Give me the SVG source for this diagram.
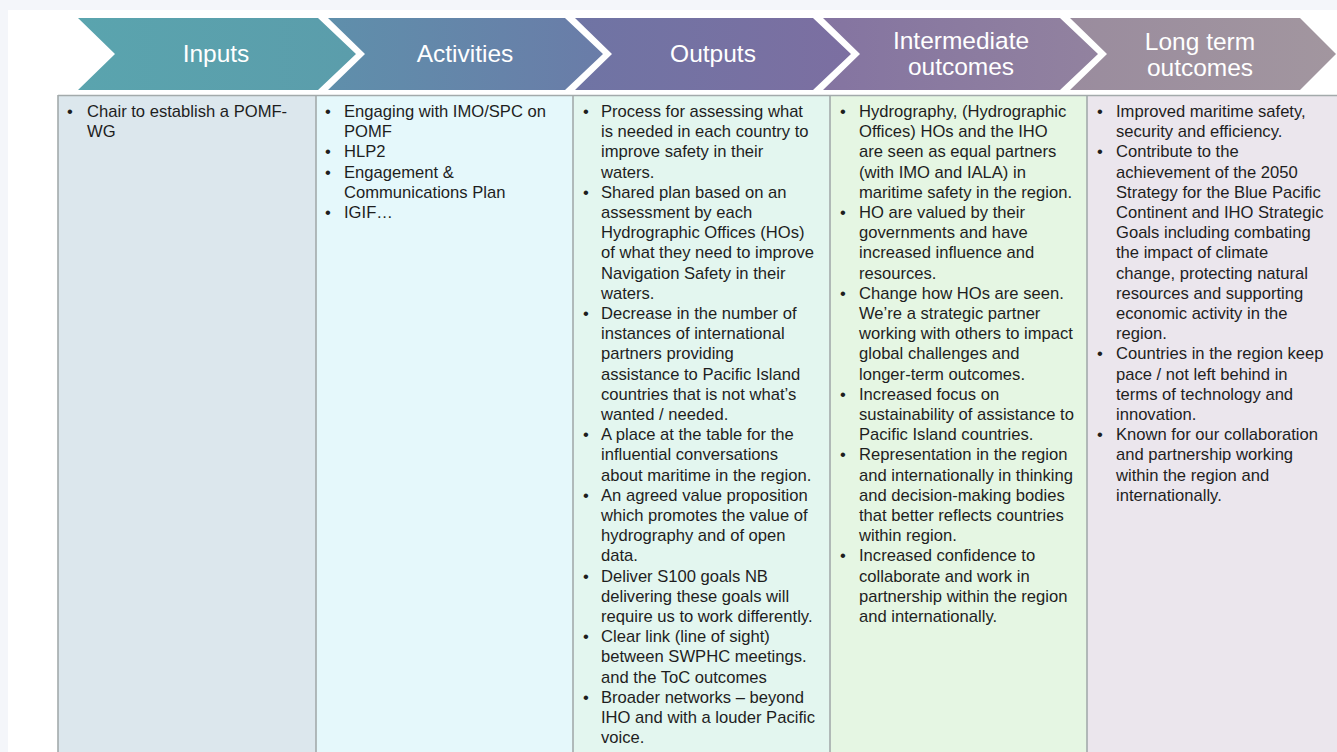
<svg xmlns="http://www.w3.org/2000/svg" width="1337" height="752" viewBox="0 0 1337 752">
<style>
.hd{font-family:"Liberation Sans",Arial,sans-serif;font-size:24.5px;fill:#ffffff;text-anchor:middle}
.bt{font-family:"Liberation Sans",Arial,sans-serif;font-size:16.6px;fill:#1e1e1e}
.col{stroke:#a3aaab;stroke-width:1.6}
</style>
<defs>
<linearGradient id="g1" x1="0" y1="0" x2="1" y2="0"><stop offset="0" stop-color="#5aa4ae"/><stop offset="1" stop-color="#5b9dab"/></linearGradient>
<linearGradient id="g2" x1="0" y1="0" x2="1" y2="0"><stop offset="0" stop-color="#5f8fab"/><stop offset="1" stop-color="#6a7ca8"/></linearGradient>
<linearGradient id="g3" x1="0" y1="0" x2="1" y2="0"><stop offset="0" stop-color="#6f74a4"/><stop offset="1" stop-color="#7c6fa1"/></linearGradient>
<linearGradient id="g4" x1="0" y1="0" x2="1" y2="0"><stop offset="0" stop-color="#8474a1"/><stop offset="1" stop-color="#92829f"/></linearGradient>
<linearGradient id="g5" x1="0" y1="0" x2="1" y2="0"><stop offset="0" stop-color="#9a8c9e"/><stop offset="1" stop-color="#a2969f"/></linearGradient>
</defs>
<rect x="0" y="0" width="1337" height="752" fill="#f4f6fa"/>
<rect x="8" y="10" width="1329" height="742" fill="#ffffff"/>

<g id="chevrons">
<g id="h-inputs"><polygon points="78,18 318,18 356,54 318,90 78,90 115,54" fill="url(#g1)"/><text class="hd" x="216" y="62">Inputs</text></g>
<g id="h-activities"><polygon points="328,18 565,18 603,54 565,90 328,90 365,54" fill="url(#g2)"/><text class="hd" x="465" y="62">Activities</text></g>
<g id="h-outputs"><polygon points="575,18 813,18 851,54 813,90 575,90 612,54" fill="url(#g3)"/><text class="hd" x="713" y="62">Outputs</text></g>
<g id="h-intermediate"><polygon points="823,18 1060,18 1098,54 1060,90 823,90 860,54" fill="url(#g4)"/><text class="hd" x="961" y="49">Intermediate</text><text class="hd" x="961" y="75">outcomes</text></g>
<g id="h-longterm"><polygon points="1070,18 1300,18 1336,54 1300,90 1070,90 1107,54" fill="url(#g5)"/><text class="hd" x="1200" y="50">Long term</text><text class="hd" x="1200" y="76">outcomes</text></g>
</g>

<g id="table">
<rect x="58" y="95" width="258" height="660" fill="#dce7ed"/>
<rect x="316" y="95" width="257" height="660" fill="#e5f8fb"/>
<rect x="573" y="95" width="257" height="660" fill="#e3f6ef"/>
<rect x="830" y="95" width="257" height="660" fill="#e5f6e3"/>
<rect x="1087" y="95" width="250" height="660" fill="#ebe6ed"/>
<line class="col" x1="58" y1="95.5" x2="1337" y2="95.5"/>
<line class="col" x1="58" y1="95" x2="58" y2="752"/>
<line class="col" x1="316" y1="95" x2="316" y2="752"/>
<line class="col" x1="573" y1="95" x2="573" y2="752"/>
<line class="col" x1="830" y1="95" x2="830" y2="752"/>
<line class="col" x1="1087" y1="95" x2="1087" y2="752"/>
</g>

<g id="col-inputs">
<text class="bt"><tspan x="67" y="117">•</tspan><tspan x="87" y="117">Chair to establish a POMF-</tspan><tspan x="87" y="137.2">WG</tspan></text>
</g>

<g id="col-activities">
<text class="bt">
<tspan x="325" y="117">•</tspan><tspan x="344" y="117">Engaging with IMO/SPC on</tspan>
<tspan x="344" y="137.2">POMF</tspan>
<tspan x="325" y="157.4">•</tspan><tspan x="344" y="157.4">HLP2</tspan>
<tspan x="325" y="177.6">•</tspan><tspan x="344" y="177.6">Engagement &amp;</tspan>
<tspan x="344" y="197.8">Communications Plan</tspan>
<tspan x="325" y="218">•</tspan><tspan x="344" y="218">IGIF…</tspan>
</text>
</g>

<g id="col-outputs">
<text class="bt">
<tspan x="583" y="117">•</tspan><tspan x="601" y="117">Process for assessing what</tspan>
<tspan x="601" y="137.2">is needed in each country to</tspan>
<tspan x="601" y="157.4">improve safety in their</tspan>
<tspan x="601" y="177.6">waters.</tspan>
<tspan x="583" y="197.8">•</tspan><tspan x="601" y="197.8">Shared plan based on an</tspan>
<tspan x="601" y="218">assessment by each</tspan>
<tspan x="601" y="238.2">Hydrographic Offices (HOs)</tspan>
<tspan x="601" y="258.4">of what they need to improve</tspan>
<tspan x="601" y="278.6">Navigation Safety in their</tspan>
<tspan x="601" y="298.8">waters.</tspan>
<tspan x="583" y="319">•</tspan><tspan x="601" y="319">Decrease in the number of</tspan>
<tspan x="601" y="339.2">instances of international</tspan>
<tspan x="601" y="359.4">partners providing</tspan>
<tspan x="601" y="379.6">assistance to Pacific Island</tspan>
<tspan x="601" y="399.8">countries that is not what’s</tspan>
<tspan x="601" y="420">wanted /  needed.</tspan>
<tspan x="583" y="440.2">•</tspan><tspan x="601" y="440.2">A place at the table for the</tspan>
<tspan x="601" y="460.4">influential conversations</tspan>
<tspan x="601" y="480.6">about maritime in the region.</tspan>
<tspan x="583" y="500.8">•</tspan><tspan x="601" y="500.8">An agreed value proposition</tspan>
<tspan x="601" y="521">which promotes the value of</tspan>
<tspan x="601" y="541.2">hydrography and of open</tspan>
<tspan x="601" y="561.4">data.</tspan>
<tspan x="583" y="581.6">•</tspan><tspan x="601" y="581.6">Deliver S100 goals NB</tspan>
<tspan x="601" y="601.8">delivering these goals will</tspan>
<tspan x="601" y="622">require us to work differently.</tspan>
<tspan x="583" y="642.2">•</tspan><tspan x="601" y="642.2">Clear link (line of sight)</tspan>
<tspan x="601" y="662.4">between SWPHC meetings.</tspan>
<tspan x="601" y="682.6">and the ToC outcomes</tspan>
<tspan x="583" y="702.8">•</tspan><tspan x="601" y="702.8">Broader networks – beyond</tspan>
<tspan x="601" y="723">IHO and with a louder Pacific</tspan>
<tspan x="601" y="743.2">voice.</tspan>
</text>
</g>

<g id="col-intermediate">
<text class="bt">
<tspan x="840" y="117">•</tspan><tspan x="859" y="117">Hydrography, (Hydrographic</tspan>
<tspan x="859" y="137.2">Offices) HOs and the IHO</tspan>
<tspan x="859" y="157.4">are seen as equal partners</tspan>
<tspan x="859" y="177.6">(with IMO and IALA) in</tspan>
<tspan x="859" y="197.8">maritime safety in the region.</tspan>
<tspan x="840" y="218">•</tspan><tspan x="859" y="218">HO are valued by their</tspan>
<tspan x="859" y="238.2">governments and have</tspan>
<tspan x="859" y="258.4">increased influence  and</tspan>
<tspan x="859" y="278.6">resources.</tspan>
<tspan x="840" y="298.8">•</tspan><tspan x="859" y="298.8">Change how HOs are seen.</tspan>
<tspan x="859" y="319">We’re a strategic partner</tspan>
<tspan x="859" y="339.2">working with others to impact</tspan>
<tspan x="859" y="359.4">global challenges and</tspan>
<tspan x="859" y="379.6">longer-term outcomes.</tspan>
<tspan x="840" y="399.8">•</tspan><tspan x="859" y="399.8">Increased focus on</tspan>
<tspan x="859" y="420">sustainability of assistance to</tspan>
<tspan x="859" y="440.2">Pacific Island countries.</tspan>
<tspan x="840" y="460.4">•</tspan><tspan x="859" y="460.4">Representation in the region</tspan>
<tspan x="859" y="480.6">and internationally in thinking</tspan>
<tspan x="859" y="500.8">and decision-making bodies</tspan>
<tspan x="859" y="521">that better reflects countries</tspan>
<tspan x="859" y="541.2">within region.</tspan>
<tspan x="840" y="561.4">•</tspan><tspan x="859" y="561.4">Increased confidence to</tspan>
<tspan x="859" y="581.6">collaborate and work in</tspan>
<tspan x="859" y="601.8">partnership within the region</tspan>
<tspan x="859" y="622">and internationally.</tspan>
</text>
</g>

<g id="col-longterm">
<text class="bt">
<tspan x="1097" y="117">•</tspan><tspan x="1116" y="117">Improved maritime safety,</tspan>
<tspan x="1116" y="137.2">security and efficiency.</tspan>
<tspan x="1097" y="157.4">•</tspan><tspan x="1116" y="157.4">Contribute to the</tspan>
<tspan x="1116" y="177.6">achievement of the 2050</tspan>
<tspan x="1116" y="197.8">Strategy for the Blue Pacific</tspan>
<tspan x="1116" y="218">Continent and IHO Strategic</tspan>
<tspan x="1116" y="238.2">Goals including combating</tspan>
<tspan x="1116" y="258.4">the impact of climate</tspan>
<tspan x="1116" y="278.6">change, protecting natural</tspan>
<tspan x="1116" y="298.8">resources and supporting</tspan>
<tspan x="1116" y="319">economic activity in the</tspan>
<tspan x="1116" y="339.2">region.</tspan>
<tspan x="1097" y="359.4">•</tspan><tspan x="1116" y="359.4">Countries in the region keep</tspan>
<tspan x="1116" y="379.6">pace / not left behind in</tspan>
<tspan x="1116" y="399.8">terms of technology and</tspan>
<tspan x="1116" y="420">innovation.</tspan>
<tspan x="1097" y="440.2">•</tspan><tspan x="1116" y="440.2">Known for our collaboration</tspan>
<tspan x="1116" y="460.4">and partnership working</tspan>
<tspan x="1116" y="480.6">within the region and</tspan>
<tspan x="1116" y="500.8">internationally.</tspan>
</text>
</g>
</svg>
